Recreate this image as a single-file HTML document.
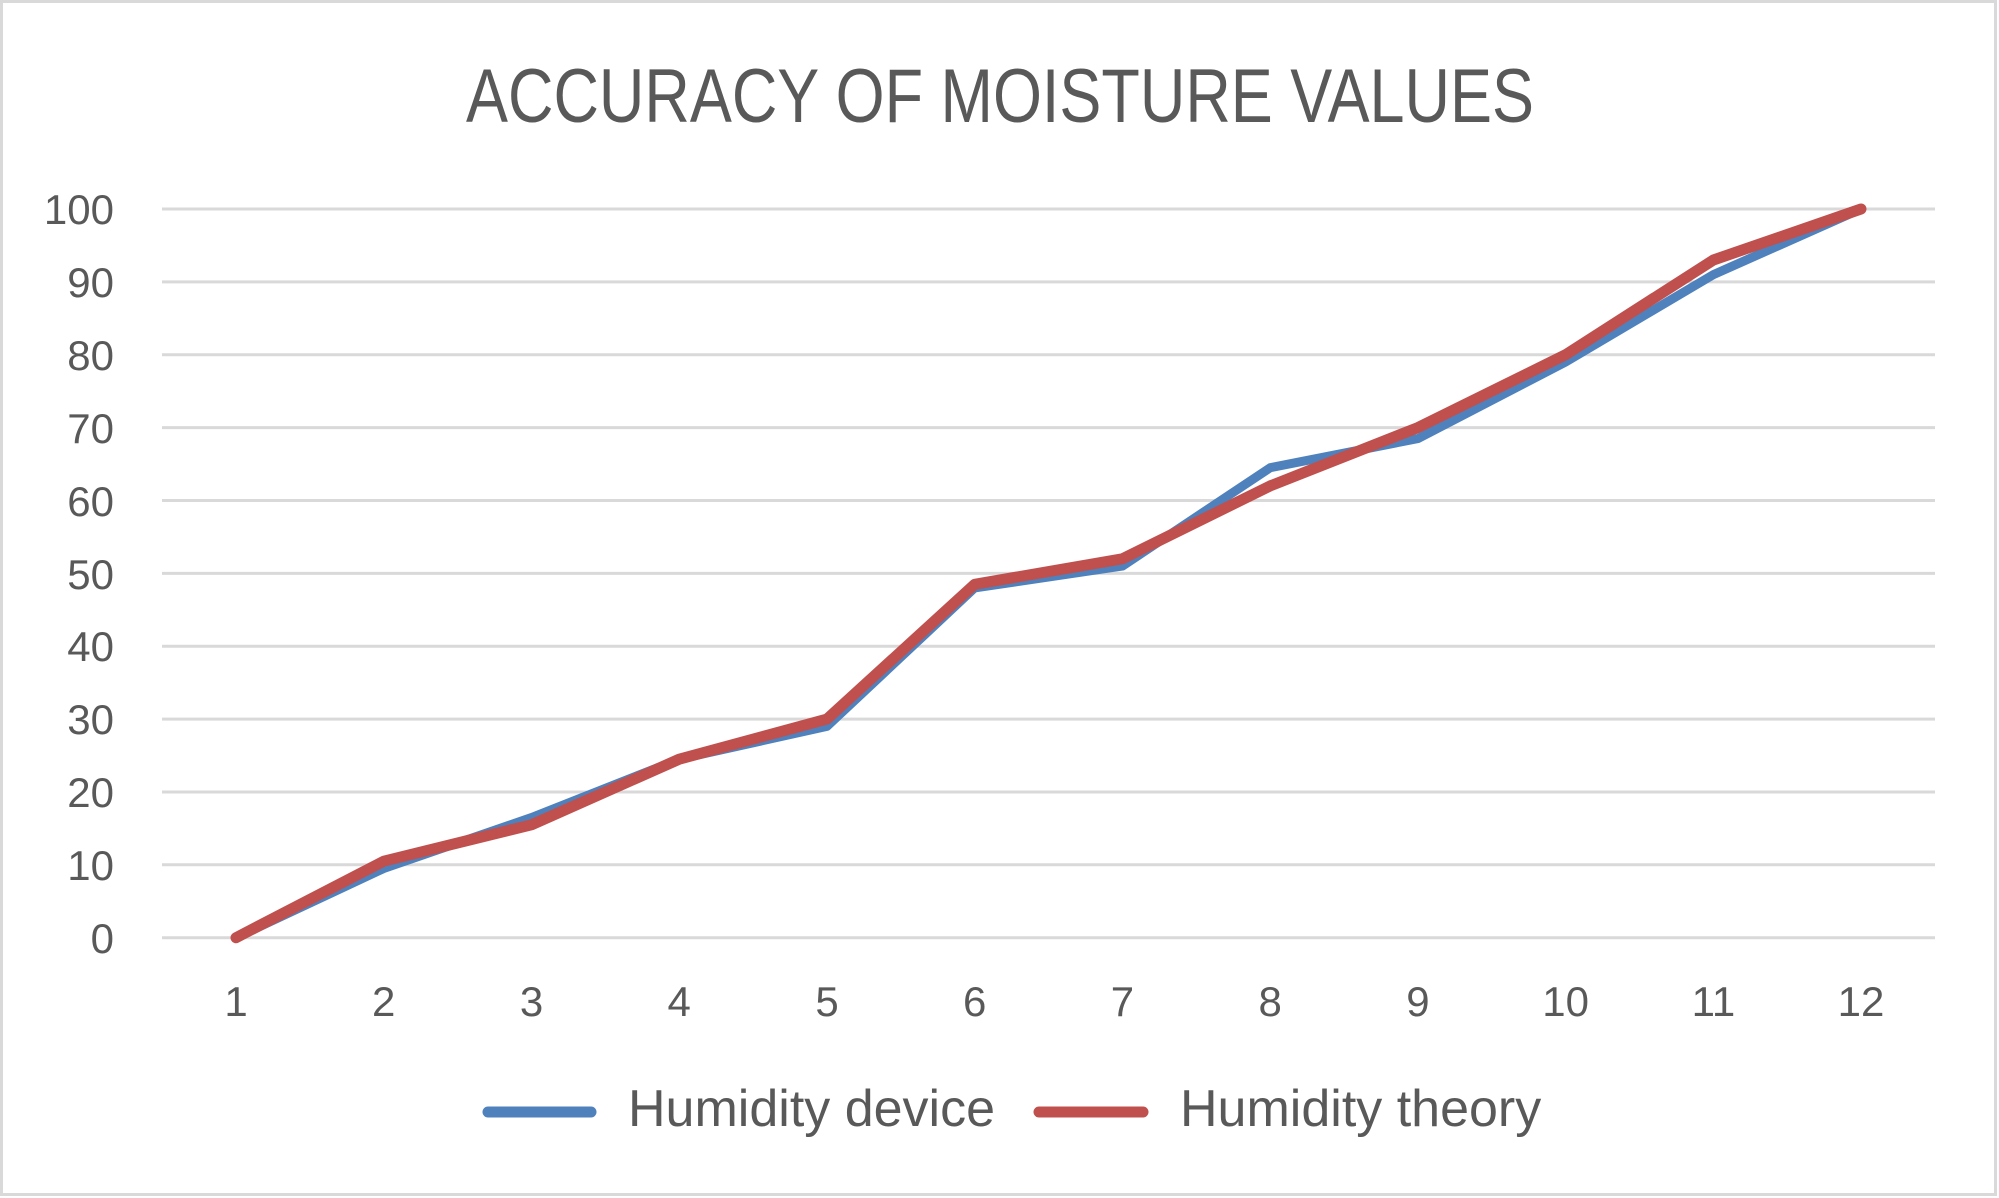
<!DOCTYPE html>
<html><head><style>
html,body{margin:0;padding:0;background:#fff;}
svg{display:block;}
text{font-family:"Liberation Sans",sans-serif;fill:#595959;}
</style></head><body>
<svg width="1999" height="1198" viewBox="0 0 1999 1198" xmlns="http://www.w3.org/2000/svg">
<rect x="1.5" y="1.5" width="1994" height="1193" fill="#fff" stroke="#d9d9d9" stroke-width="3"/>
<text x="1000" y="122" font-size="76" text-anchor="middle" textLength="1068" lengthAdjust="spacingAndGlyphs">ACCURACY OF MOISTURE VALUES</text>
<g stroke="#d9d9d9" stroke-width="3">
<line x1="162" x2="1935" y1="209" y2="209"/>
<line x1="162" x2="1935" y1="281.9" y2="281.9"/>
<line x1="162" x2="1935" y1="354.7" y2="354.7"/>
<line x1="162" x2="1935" y1="427.6" y2="427.6"/>
<line x1="162" x2="1935" y1="500.5" y2="500.5"/>
<line x1="162" x2="1935" y1="573.4" y2="573.4"/>
<line x1="162" x2="1935" y1="646.2" y2="646.2"/>
<line x1="162" x2="1935" y1="719.1" y2="719.1"/>
<line x1="162" x2="1935" y1="792" y2="792"/>
<line x1="162" x2="1935" y1="864.8" y2="864.8"/>
<line x1="162" x2="1935" y1="937.7" y2="937.7"/>
</g>
<g font-size="42" text-anchor="end">
<text x="114" y="224">100</text>
<text x="114" y="297">90</text>
<text x="114" y="370">80</text>
<text x="114" y="443">70</text>
<text x="114" y="516">60</text>
<text x="114" y="589">50</text>
<text x="114" y="661">40</text>
<text x="114" y="734">30</text>
<text x="114" y="807">20</text>
<text x="114" y="880">10</text>
<text x="114" y="953">0</text>
</g>
<g font-size="42" text-anchor="middle">
<text x="236" y="1016">1</text>
<text x="383.7" y="1016">2</text>
<text x="531.5" y="1016">3</text>
<text x="679.2" y="1016">4</text>
<text x="827" y="1016">5</text>
<text x="974.7" y="1016">6</text>
<text x="1122.4" y="1016">7</text>
<text x="1270.2" y="1016">8</text>
<text x="1417.9" y="1016">9</text>
<text x="1565.6" y="1016">10</text>
<text x="1713.4" y="1016">11</text>
<text x="1861" y="1016">12</text>
</g>
<polyline fill="none" stroke="#4f81bd" stroke-width="9" stroke-linejoin="round" stroke-linecap="round"
points="236,937.7 383.7,868.5 531.5,817.5 679.2,759.2 827,726.4 974.7,587.9 1122.4,566.1 1270.2,467.7 1417.9,438.6 1565.6,362 1713.4,274.6 1861,209"/>
<polyline fill="none" stroke="#c0504d" stroke-width="11" stroke-linejoin="round" stroke-linecap="round"
points="236,937.7 383.7,861.2 531.5,824.8 679.2,759.2 827,719.1 974.7,584.3 1122.4,558.8 1270.2,485.9 1417.9,427.6 1565.6,354.7 1713.4,260 1861,209"/>
<line x1="488" y1="1112" x2="591" y2="1112" stroke="#4f81bd" stroke-width="11" stroke-linecap="round"/>
<text x="628" y="1126" font-size="52">Humidity device</text>
<line x1="1039" y1="1112" x2="1143" y2="1112" stroke="#c0504d" stroke-width="11" stroke-linecap="round"/>
<text x="1180" y="1126" font-size="52">Humidity theory</text>
</svg>
</body></html>
